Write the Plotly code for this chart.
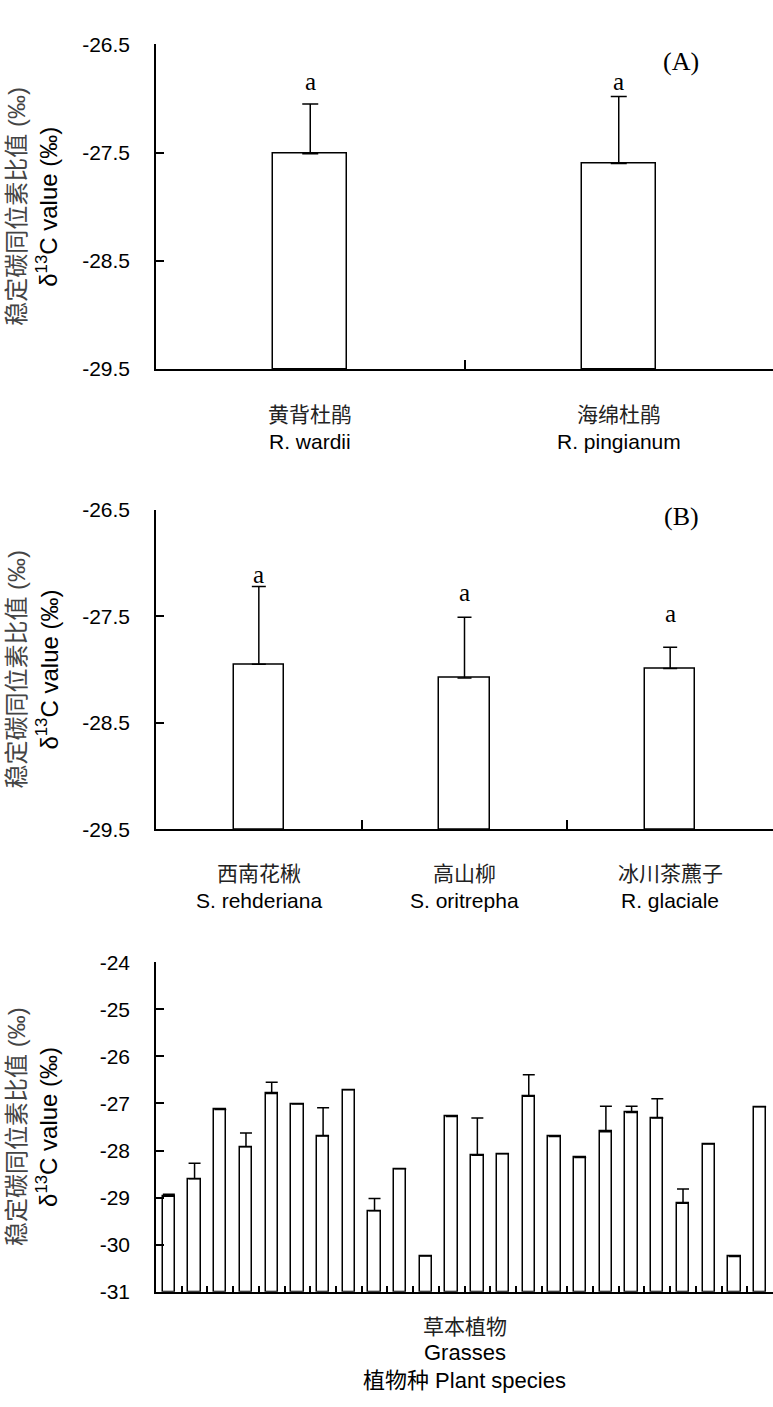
import plotly.graph_objects as go

W, H = 773, 1407

# ---- Panel (A): two rhododendron shrubs ----
a_cn = ["黄背杜鹃", "海绵杜鹃"]
a_en = ["R. wardii", "R. pingianum"]
a_mean = [-27.51, -27.60]
a_err = [0.46, 0.62]
a_letter = ["a", "a"]
a_letter_y = [-26.84, -26.84]

# ---- Panel (B): three shrubs ----
b_cn = ["西南花楸", "高山柳", "冰川茶藨子"]
b_en = ["S. rehderiana", "S. oritrepha", "R. glaciale"]
b_mean = [-27.95, -28.08, -27.99]
b_err = [0.73, 0.57, 0.20]
b_letter = ["a", "a", "a"]
b_letter_y = [-27.11, -27.28, -27.47]

# ---- Panel (C): 24 grass species ----
c_species = [f"sp{i}" for i in range(1, 25)]
c_mean = [-28.97, -28.60, -27.13, -27.92, -26.79, -27.01, -27.69, -26.71,
          -29.28, -28.39, -30.24, -27.28, -28.10, -28.07, -26.85, -27.70,
          -28.15, -27.60, -27.19, -27.31, -29.12, -27.86, -30.25, -27.07]
c_err = [0.04, 0.33, None, 0.29, 0.24, None, 0.60, None,
         0.26, None, None, None, 0.79, None, 0.46, None,
         None, 0.54, 0.13, 0.41, 0.30, None, None, None]

# axis ticks
ab_range = [-29.5, -26.5]
ab_tickvals = [-29.5, -28.5, -27.5, -26.5]
ab_ticktext = ["-29.5", "-28.5", "-27.5", "-26.5"]
c_range = [-31, -24]
c_tickvals = [-31, -30, -29, -28, -27, -26, -25, -24]
c_ticktext = ["-31", "-30", "-29", "-28", "-27", "-26", "-25", "-24"]

SANS = "Arial, Liberation Sans, Noto Sans CJK SC, sans-serif"
SERIF = "Times New Roman, Liberation Serif, serif"
CJK = "Noto Sans CJK SC, sans-serif"

ytitle_cn = "稳定碳同位素比值 (‰)"
ytitle_en = "δ<sup>13</sup>C value (‰)"
c_xtitle_cn = "草本植物"
c_xtitle_en = "Grasses"
c_xtitle_species = "植物种 Plant species"


def py(px):
    """pixel row -> paper fraction"""
    return 1 - px / H


fig = go.Figure()


def add_bars(cats, means, errs, base, width, xa, ya, cap):
    # bars rise from the bottom of the axis range up to the mean value
    heights = [m - base for m in means]
    plus = [e if e is not None else None for e in errs]
    minus = [0 if e is not None else None for e in errs]
    fig.add_trace(go.Bar(
        x=cats, y=heights, base=base, width=width,
        marker=dict(color="white", line=dict(color="black", width=1.5)),
        error_y=dict(type="data", symmetric=False, array=plus, arrayminus=minus,
                     color="black", thickness=1.5, width=cap),
        xaxis=xa, yaxis=ya, showlegend=False, hoverinfo="skip",
    ))


add_bars(a_en, a_mean, a_err, ab_range[0], 0.24, "x", "y", 8)
add_bars(b_en, b_mean, b_err, ab_range[0], 0.245, "x2", "y2", 7)
add_bars(c_species, c_mean, c_err, c_range[0], 0.48, "x3", "y3", 6)

x_left = 156 / W
domains = {
    "": (py(363), py(33)),
    "2": (py(831), py(506)),
    "3": (py(1301), py(966)),
}

for k, (y0, y1) in domains.items():
    is_c = k == "3"
    fig.layout["xaxis" + k] = dict(
        domain=[x_left, 1], anchor="y" + k, type="category",
        showline=True, linecolor="black", linewidth=2,
        ticks="inside", tickson="boundaries", ticklen=6 if is_c else 9,
        tickcolor="black", tickwidth=1.5,
        showticklabels=False, showgrid=False, zeroline=False, fixedrange=True,
    )
    fig.layout["yaxis" + k] = dict(
        domain=[y0, y1], anchor="x" + k,
        range=c_range if is_c else ab_range,
        tickvals=c_tickvals if is_c else ab_tickvals,
        ticktext=c_ticktext if is_c else ab_ticktext,
        showline=True, linecolor="black", linewidth=1.5,
        ticks="inside", ticklen=8, tickcolor="black", tickwidth=1.5,
        tickfont=dict(family=SANS, size=21, color="black"),
        ticklabelstandoff=20,
        showgrid=False, zeroline=False, fixedrange=True,
    )

ann = []

# y-axis titles (two lines each panel)
for (y0, y1) in domains.values():
    yc = (y0 + y1) / 2
    ann.append(dict(text=ytitle_cn, x=17 / W, y=yc, xref="paper", yref="paper",
                    textangle=-90, showarrow=False, xanchor="center", yanchor="middle",
                    font=dict(family=SANS, size=24, color="#444444")))
    ann.append(dict(text=ytitle_en, x=47 / W, y=yc, xref="paper", yref="paper",
                    textangle=-90, showarrow=False, xanchor="center", yanchor="middle",
                    font=dict(family=SANS, size=24, color="black")))

# panel letters
for txt, ya, yv in [("(A)", "y", -26.66), ("(B)", "y2", -26.56), ("(C)", "y3", -23.82)]:
    ann.append(dict(text=txt, x=681 / W, y=yv, xref="paper", yref=ya, showarrow=False,
                    xanchor="center", yanchor="middle",
                    font=dict(family=SERIF, size=26, color="black")))

# significance letters
for cats, letters, ys, xa, ya in [(a_en, a_letter, a_letter_y, "x", "y"),
                                  (b_en, b_letter, b_letter_y, "x2", "y2")]:
    for c, l, yv in zip(cats, letters, ys):
        ann.append(dict(text=l, x=c, y=yv, xref=xa, yref=ya, showarrow=False,
                        xanchor="center", yanchor="middle",
                        font=dict(family=SERIF, size=25, color="black")))

# category labels (Chinese name above Latin name)
for cn_list, en_list, xa, ycn, yen in [(a_cn, a_en, "x", 408, 437),
                                       (b_cn, b_en, "x2", 874, 903)]:
    for cn, en in zip(cn_list, en_list):
        ann.append(dict(text=cn, x=en, y=py(ycn), xref=xa, yref="paper", showarrow=False,
                        xanchor="center", yanchor="middle",
                        font=dict(family=CJK, size=21, color="#222222")))
        ann.append(dict(text=en, x=en, y=py(yen), xref=xa, yref="paper", showarrow=False,
                        xanchor="center", yanchor="middle",
                        font=dict(family=SANS, size=21, color="black")))

# x title of panel C
xc = (x_left + 1) / 2
ann.append(dict(text=c_xtitle_cn, x=xc, y=py(1335), xref="paper", yref="paper",
                showarrow=False, xanchor="center", yanchor="middle",
                font=dict(family=CJK, size=21, color="#222222")))
ann.append(dict(text=c_xtitle_en, x=xc, y=py(1363), xref="paper", yref="paper",
                showarrow=False, xanchor="center", yanchor="middle",
                font=dict(family=SANS, size=22, color="black")))
ann.append(dict(text=c_xtitle_species, x=xc, y=py(1391), xref="paper", yref="paper",
                showarrow=False, xanchor="center", yanchor="middle",
                font=dict(family=SANS, size=22, color="black")))

fig.update_layout(
    width=W, height=H, margin=dict(l=0, r=0, t=0, b=0),
    paper_bgcolor="white", plot_bgcolor="white",
    showlegend=False, annotations=ann, bargap=0,
)

fig.write_html("out.html", config={"displayModeBar": False})
